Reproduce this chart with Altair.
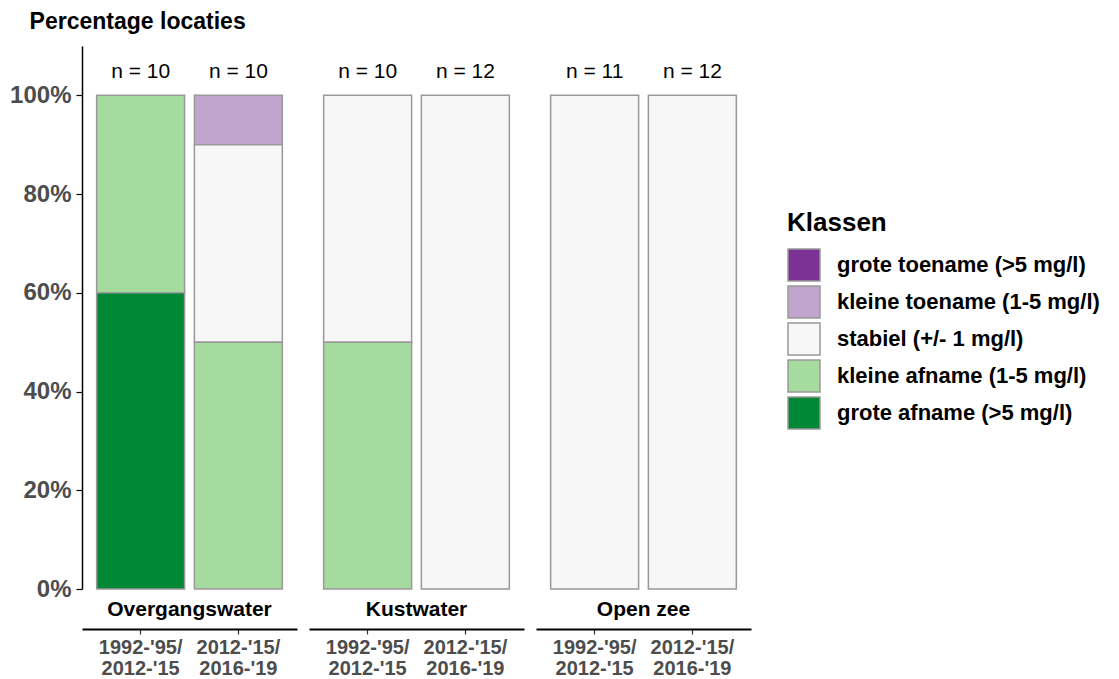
import altair as alt
import pandas as pd

panels = ["Overgangswater", "Kustwater", "Open zee"]
periods = ["1992-'95/2012-'15", "2012-'15/2016-'19"]
klassen = [
    "grote toename (>5 mg/l)",
    "kleine toename (1-5 mg/l)",
    "stabiel (+/- 1 mg/l)",
    "kleine afname (1-5 mg/l)",
    "grote afname (>5 mg/l)",
]
colors = ["#7b3294", "#c2a5cf", "#f7f7f7", "#a6dba0", "#008837"]

# aantal locaties per paneel / periode
n_overgang = [10, 10]
n_kust = [10, 12]
n_open = [11, 12]

# aandeel per klasse (volgorde als 'klassen'), per periode
share_overgang = [[0.0, 0.0, 0.0, 0.4, 0.6], [0.0, 0.1, 0.4, 0.5, 0.0]]
share_kust = [[0.0, 0.0, 0.5, 0.5, 0.0], [0.0, 0.0, 1.0, 0.0, 0.0]]
share_open = [[0.0, 0.0, 1.0, 0.0, 0.0], [0.0, 0.0, 1.0, 0.0, 0.0]]

n_all = [n_overgang, n_kust, n_open]
share_all = [share_overgang, share_kust, share_open]

rows = []
for pi, panel in enumerate(panels):
    for ti, period in enumerate(periods):
        for ki, k in enumerate(klassen):
            v = share_all[pi][ti][ki]
            if v > 0:
                rows.append(dict(panel=panel, period=period, klasse=k, value=v,
                                 rank=len(klassen) - 1 - ki, n=n_all[pi][ti]))
df = pd.DataFrame(rows)

PW = 215
PH = 543
FONT = "Liberation Sans"

x_enc = alt.X(
    "period:N",
    sort=periods,
    title=None,
    scale=alt.Scale(paddingInner=0.1, paddingOuter=0.15),
    axis=alt.Axis(
        offset=40,
        domainColor="black",
        domainWidth=2,
        tickColor="#333333",
        tickSize=5,
        tickWidth=1.2,
        labelColor="#4d4d4d",
        labelFont=FONT,
        labelFontSize=20,
        labelFontWeight="bold",
        labelPadding=3,
        labelLineHeight=21,
        labelAngle=0,
        labelExpr="[split(datum.value, '/')[0] + '/', split(datum.value, '/')[1]]",
    ),
)

bars = alt.Chart().mark_bar(stroke="#999999", strokeWidth=1.5).encode(
    x=x_enc,
    y=alt.Y(
        "value:Q",
        stack="zero",
        title=None,
        scale=alt.Scale(domain=[0, 1.1], nice=False, zero=True),
        axis=alt.Axis(
            values=[0, 0.2, 0.4, 0.6, 0.8, 1.0],
            format=".0%",
            grid=False,
            domainColor="black",
            domainWidth=1.5,
            tickColor="black",
            tickSize=6,
            tickWidth=1.2,
            labelColor="#4d4d4d",
            labelFont=FONT,
            labelFontSize=24,
            labelFontWeight="bold",
            labelPadding=5,
        ),
    ),
    color=alt.Color(
        "klasse:N",
        scale=alt.Scale(domain=klassen, range=colors),
        legend=alt.Legend(
            title="Klassen",
            orient="none",
            legendX=705,
            legendY=164,
            titleFont=FONT,
            titleFontSize=26,
            titleFontWeight="bold",
            titleColor="black",
            titlePadding=12,
            labelFont=FONT,
            labelFontSize=22,
            labelFontWeight="bold",
            labelColor="black",
            labelOffset=16,
            labelLimit=400,
            symbolType="square",
            symbolSize=1024,
            symbolStrokeColor="#999999",
            symbolStrokeWidth=1.5,
            rowPadding=-1,
        ),
    ),
    order=alt.Order("rank:Q", sort="ascending"),
)

ntext = alt.Chart().transform_aggregate(
    total="sum(value)", groupby=["panel", "period", "n"]
).transform_calculate(
    label="'n = ' + datum.n"
).mark_text(
    font=FONT, fontSize=21, color="black", baseline="middle", dy=-23
).encode(
    x=alt.X("period:N", sort=periods),
    y=alt.Y("total:Q"),
    text="label:N",
)

ptext = alt.Chart().transform_aggregate(
    cnt="count()", groupby=["panel"]
).mark_text(
    font=FONT, fontSize=21, fontWeight="bold", color="black", baseline="middle"
).encode(
    x=alt.value(PW / 2),
    y=alt.value(PH + 21),
    text="panel:N",
)

chart = alt.layer(bars, ntext, ptext).properties(
    width=PW, height=PH
).facet(
    column=alt.Column("panel:N", sort=panels, title=None,
                      header=alt.Header(labels=False)),
    data=df,
    spacing=12,
    bounds="flush",
).properties(
    title=alt.TitleParams(
        "Percentage locaties",
        anchor="start",
        font=FONT,
        fontSize=23,
        fontWeight="bold",
        color="black",
        offset=12,
        dx=20,
    ),
    padding={"left": 1, "top": 3, "right": 0, "bottom": 0},
).configure_view(strokeWidth=0)

chart.save("out.html", embed_options={"renderer": "svg", "actions": False})
